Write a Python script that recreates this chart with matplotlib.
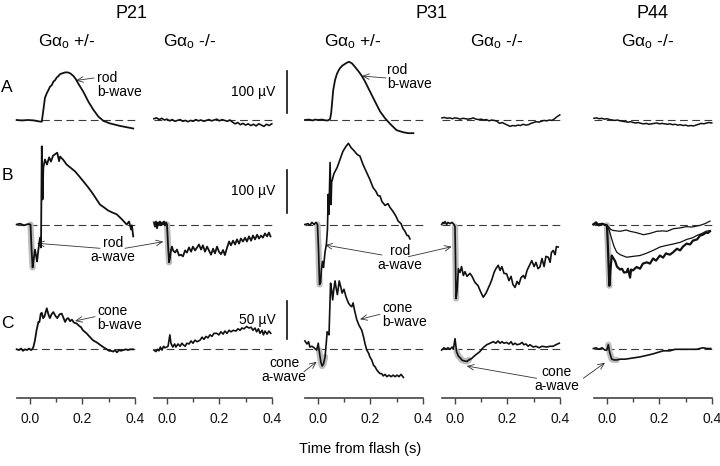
import matplotlib
matplotlib.use("Agg")
import matplotlib.pyplot as plt

plt.rcParams["font.family"] = ["Liberation Sans", "DejaVu Sans"]
plt.rcParams["mathtext.fontset"] = "custom"
plt.rcParams["mathtext.rm"] = "Liberation Sans"
plt.rcParams["mathtext.it"] = "Liberation Sans:italic"

# ---------------------------------------------------------------- data
# ERG traces, time in s from flash, voltage in µV
COLUMN_AGES = ["P21", "P31", "P44"]
COLUMN_GENOTYPES = ["+/-", "-/-", "+/-", "-/-", "-/-"]
ROW_LETTERS = ["A", "B", "C"]
SCALE_BAR_UV = [100, 100, 50]
TICKS_MAJOR = [0.0, 0.2, 0.4]
TICKS_MINOR = [0.1, 0.3]
TICK_LABELS = ["0.0", "0.2", "0.4"]

GRID_T = [round(-0.05 + 0.01 * i, 2) for i in range(46)]

# row A: rod b-wave (dim flash)
a_p21_het_t = [-0.051, -0.031, -0.008, 0.015, 0.031, 0.045, 0.050, 0.057, 0.064, 0.070,
               0.076, 0.083, 0.089, 0.096, 0.102, 0.108, 0.115, 0.124, 0.134, 0.144,
               0.153, 0.165, 0.175, 0.184, 0.203, 0.223, 0.242, 0.261, 0.280, 0.305,
               0.344, 0.394]
a_p21_het_v = [0, -1, 0, -1, -3, -4, 19, 52, 63, 70, 78, 82, 90, 94, 100, 103, 108, 110,
               112, 112, 110, 104, 96, 86, 67, 43, 24, 8, -2, -8, -14, -20]
a_p21_ko_v = [3, 5, 1, 4, 0, 2, -2, 1, -3, -1, 1, -3, -1, -4, -1, -3, 1, -2, 0, -3, -1, 1,
              -2, 0, 2, -2, 1, -1, -3, 0, -5, -9, -6, -11, -8, -12, -9, -13, -10, -14, -9,
              -12, -15, -10, -13, -9]
a_p31_het_t = [-0.050, -0.035, -0.020, -0.011, 0.000, 0.015, 0.030, 0.038, 0.046, 0.050,
               0.053, 0.058, 0.065, 0.072, 0.078, 0.084, 0.093, 0.103, 0.111, 0.119,
               0.130, 0.141, 0.154, 0.167, 0.180, 0.192, 0.205, 0.218, 0.237, 0.256,
               0.275, 0.300, 0.326, 0.345, 0.364]
a_p31_het_v = [0, 1, -1, 1, 0, 1, -1, -1, 2, 15, 35, 70, 94, 108, 116, 122, 128, 132, 135,
               137, 133, 125, 115, 104, 90, 75, 59, 43, 20, 4, -9, -24, -29, -31, -31]
a_p31_ko_v = [5, 6, 4, 5, 3, 5, 4, 2, 4, 3, 2, 3, 5, 2, 1, 2, 0, 1, -2, 0, -1, -3, -8, -6,
              -9, -12, -15, -13, -14, -12, -13, -10, -12, -11, -8, -6, -4, -5, -3, -1, -2,
              0, -1, 3, 8, 12]
a_p44_ko_v = [4, 5, 3, 4, 2, 3, 1, 0, -1, 0, -2, -3, -4, -5, -4, -6, -7, -6, -8, -9, -8,
              -10, -9, -8, -7, -9, -8, -9, -10, -9, -11, -10, -12, -11, -13, -12, -14, -13,
              -14, -12, -10, -8, -9, -7, -6, -7]

# row B: rod a-wave + b-wave (bright flash)
b_p21_het_t = [-0.051, -0.038, -0.023, -0.008, 0.002, 0.006, 0.010, 0.013, 0.019, 0.023,
               0.027, 0.032, 0.038, 0.042, 0.045, 0.048, 0.051, 0.057, 0.065, 0.073,
               0.080, 0.088, 0.095, 0.104, 0.111, 0.115, 0.127, 0.140, 0.156, 0.172,
               0.187, 0.203, 0.220, 0.237, 0.252, 0.267, 0.283, 0.298, 0.315, 0.331,
               0.351, 0.369, 0.378, 0.386, 0.389, 0.394]
b_p21_het_v = [0, 2, -2, 1, 0, -59, -101, -87, -59, -73, -87, -59, -31, -54, 184, 59, 134,
               153, 141, 158, 148, 162, 165, 169, 149, 160, 152, 141, 133, 125, 114, 102,
               89, 75, 61, 47, 40, 33, 28, 24, 12, 0, 7, -12, -2, -28]
b_p21_ko_t = [-0.050, -0.046, -0.042, -0.038, -0.034, -0.031, -0.027, -0.023, -0.019,
              -0.015, -0.011, -0.008, -0.004, 0.000, 0.004, 0.008, 0.011, 0.015, 0.019,
              0.023, 0.031, 0.038, 0.046, 0.053, 0.061, 0.069, 0.076, 0.084, 0.092, 0.099,
              0.107, 0.115, 0.122, 0.130, 0.137, 0.145, 0.153, 0.160, 0.168, 0.176, 0.183,
              0.191, 0.198, 0.206, 0.214, 0.221, 0.229, 0.237, 0.244, 0.252, 0.260, 0.267,
              0.275, 0.282, 0.290, 0.298, 0.305, 0.313, 0.321, 0.328, 0.336, 0.344, 0.351,
              0.359, 0.366, 0.374, 0.382, 0.389, 0.395]
b_p21_ko_v = [5, -5, 7, -9, 5, 0, 7, -2, 5, 0, 7, -2, 5, 0, -49, -89, -80, -61, -52, -61,
              -66, -59, -73, -71, -75, -61, -66, -54, -64, -52, -61, -54, -47, -59, -49,
              -64, -52, -61, -71, -57, -68, -52, -64, -70, -60, -72, -55, -40, -49, -38,
              -47, -35, -45, -33, -40, -31, -40, -28, -38, -26, -35, -24, -33, -26, -31,
              -21, -28, -19, -28]
b_p31_het_t = [-0.050, -0.038, -0.031, -0.023, -0.015, -0.008, -0.002, 0.002, 0.006, 0.010,
               0.013, 0.017, 0.021, 0.027, 0.032, 0.036, 0.039, 0.042, 0.046, 0.050,
               0.052, 0.061, 0.073, 0.084, 0.095, 0.107, 0.116, 0.126, 0.137, 0.149,
               0.160, 0.172, 0.186, 0.198, 0.210, 0.221, 0.229, 0.237, 0.244, 0.256,
               0.267, 0.275, 0.286, 0.298, 0.306, 0.317, 0.324, 0.332, 0.340, 0.345, 0.351]
b_p31_het_v = [0, 2, -2, 5, 0, 5, 0, -59, -141, -136, -106, -87, -101, -64, -47, -12, 71,
               24, 146, 47, 99, 120, 134, 153, 172, 184, 191, 181, 174, 165, 161, 141, 122,
               106, 87, 78, 68, 67, 54, 45, 49, 40, 31, 19, 8, 2, -9, -16, -26, -26, -34]
b_p31_ko_t = [-0.051, -0.046, -0.042, -0.038, -0.032, -0.027, -0.019, -0.011, -0.004, 0.000,
              0.004, 0.008, 0.013, 0.019, 0.025, 0.032, 0.038, 0.046, 0.057, 0.065, 0.076,
              0.088, 0.099, 0.108, 0.118, 0.126, 0.134, 0.141, 0.149, 0.156, 0.165, 0.172,
              0.179, 0.187, 0.197, 0.206, 0.214, 0.221, 0.229, 0.237, 0.244, 0.252, 0.261,
              0.267, 0.275, 0.282, 0.293, 0.302, 0.309, 0.317, 0.324, 0.332, 0.340, 0.347,
              0.356, 0.363, 0.368, 0.375, 0.382, 0.387, 0.394]
b_p31_ko_v = [0, 5, 2, 7, 0, 5, 2, 5, 0, -5, -174, -155, -104, -113, -99, -120, -111, -122,
              -115, -122, -136, -144, -160, -171, -162, -151, -140, -129, -113, -104, -96,
              -108, -99, -115, -116, -132, -122, -141, -148, -134, -141, -125, -120, -127,
              -108, -99, -85, -99, -89, -104, -100, -80, -99, -75, -77, -89, -66, -61, -71,
              -52, -53]
b_p44_dim_t = [-0.052, -0.042, -0.034, -0.027, -0.015, -0.004, 0.004, 0.015, 0.024, 0.050,
               0.073, 0.088, 0.111, 0.139, 0.164, 0.190, 0.214, 0.229, 0.253, 0.279,
               0.304, 0.324, 0.355, 0.374, 0.393]
b_p44_dim_v = [0, 5, -2, 2, 0, 0, -5, -12, -14, -16, -13, -16, -19, -24, -21, -16, -15, -16,
               -10, -8, -5, -6, -2, 2, 8]
b_p44_mid_t = [-0.052, -0.038, -0.023, -0.008, 0.004, 0.011, 0.018, 0.027, 0.037, 0.050,
               0.075, 0.099, 0.126, 0.149, 0.176, 0.202, 0.229, 0.252, 0.279, 0.305,
               0.328, 0.342, 0.363, 0.378, 0.393]
b_p44_mid_v = [2, 0, 2, 0, -5, -19, -34, -52, -65, -71, -77, -75, -73, -68, -61, -53, -49,
               -46, -42, -35, -31, -26, -21, -16, -14]
b_p44_bright_t = [-0.052, -0.042, -0.031, -0.019, -0.008, 0.000, 0.004, 0.009, 0.013, 0.018,
                  0.023, 0.031, 0.038, 0.050, 0.057, 0.065, 0.075, 0.080, 0.088, 0.092,
                  0.099, 0.113, 0.126, 0.137, 0.152, 0.164, 0.176, 0.187, 0.202, 0.214,
                  0.225, 0.240, 0.253, 0.267, 0.279, 0.290, 0.304, 0.317, 0.328, 0.344,
                  0.355, 0.366, 0.378, 0.385, 0.393]
b_p44_bright_v = [0, 5, -2, 2, -1, -2, -61, -144, -108, -73, -78, -86, -99, -106, -104, -113,
                  -112, -104, -125, -106, -108, -100, -104, -92, -89, -92, -80, -85, -73,
                  -78, -68, -71, -65, -57, -61, -52, -45, -47, -38, -35, -26, -24, -19, -20,
                  -16]

# row C: cone responses (light adapted)
c_p21_het_t = [-0.051, -0.042, -0.034, -0.027, -0.019, -0.011, -0.004, 0.004, 0.008, 0.013,
               0.019, 0.025, 0.032, 0.036, 0.041, 0.045, 0.050, 0.055, 0.064, 0.071,
               0.076, 0.082, 0.089, 0.097, 0.104, 0.113, 0.121, 0.128, 0.134, 0.140,
               0.146, 0.153, 0.160, 0.168, 0.178, 0.187, 0.195, 0.202, 0.216, 0.229,
               0.240, 0.255, 0.267, 0.279, 0.293, 0.302, 0.309, 0.318, 0.324, 0.332,
               0.340, 0.347, 0.356, 0.366, 0.374, 0.382, 0.394]
c_p21_het_v = [0, -1, 1, -2, 0, -1, 1, -1, 0, 3, 12, 25, 36, 36, 47, 48, 41, 43, 54, 45,
               41, 46, 49, 44, 41, 46, 47, 41, 36, 40, 41, 37, 39, 35, 34, 31, 29, 25, 21,
               16, 12, 9, 6, 3, 0, -2, -2, -3, -1, -4, -1, -2, -1, 0, -1, 0, 0]
c_p21_ko_t = [-0.050, -0.042, -0.036, -0.031, -0.025, -0.019, -0.013, -0.008, -0.001, 0.004,
              0.011, 0.015, 0.022, 0.029, 0.034, 0.042, 0.050, 0.057, 0.062, 0.069, 0.076,
              0.084, 0.092, 0.099, 0.107, 0.115, 0.126, 0.134, 0.141, 0.149, 0.156, 0.164,
              0.172, 0.179, 0.190, 0.198, 0.206, 0.214, 0.221, 0.229, 0.237, 0.244, 0.253,
              0.263, 0.271, 0.279, 0.286, 0.294, 0.304, 0.313, 0.321, 0.328, 0.336, 0.342,
              0.349, 0.355, 0.363, 0.368, 0.374, 0.382, 0.389, 0.396]
c_p21_ko_v = [-1, -3, 0, -2, 3, -1, 4, 2, 3, 4, 19, 8, 3, 7, 3, 7, 4, 8, 6, 4, 8, 7, 11, 8,
              12, 10, 12, 16, 13, 17, 15, 19, 17, 21, 21, 19, 23, 20, 24, 21, 25, 23, 25,
              24, 27, 25, 28, 27, 30, 28, 29, 25, 28, 23, 27, 21, 25, 19, 24, 20, 24, 21]
c_p31_het_t = [-0.050, -0.042, -0.036, -0.031, -0.023, -0.015, -0.005, 0.001, 0.004, 0.008,
               0.011, 0.016, 0.021, 0.027, 0.031, 0.035, 0.039, 0.042, 0.048, 0.052,
               0.056, 0.060, 0.065, 0.069, 0.074, 0.078, 0.081, 0.087, 0.092, 0.099,
               0.107, 0.116, 0.122, 0.129, 0.134, 0.139, 0.148, 0.156, 0.167, 0.174,
               0.179, 0.186, 0.193, 0.198, 0.205, 0.212, 0.218, 0.224, 0.231, 0.237,
               0.243, 0.249, 0.256, 0.263, 0.271, 0.279, 0.287, 0.294, 0.302, 0.309,
               0.317, 0.326]
c_p31_het_v = [11, 7, 10, 3, 4, 2, -1, 8, -1, -10, -17, -22, -19, -10, 6, 23, 21, 19, 87,
               78, 65, 78, 90, 81, 72, 82, 90, 82, 74, 79, 69, 61, 58, 56, 61, 52, 39, 32,
               25, 16, 8, -1, -5, -10, -14, -21, -23, -27, -30, -32, -32, -35, -33, -36,
               -34, -36, -34, -36, -34, -36, -33, -37]
c_p31_ko_t = [-0.051, -0.042, -0.034, -0.027, -0.019, -0.011, -0.006, 0.000, 0.006, 0.013,
              0.019, 0.026, 0.032, 0.045, 0.053, 0.064, 0.073, 0.084, 0.095, 0.107, 0.121,
              0.134, 0.146, 0.156, 0.164, 0.172, 0.179, 0.187, 0.197, 0.206, 0.214, 0.221,
              0.229, 0.237, 0.248, 0.256, 0.263, 0.271, 0.279, 0.286, 0.299, 0.309, 0.321,
              0.332, 0.350, 0.363, 0.374, 0.385, 0.398]
c_p31_ko_v = [-1, 2, 0, 2, 0, 3, 0, 14, -3, -9, -11, -14, -15, -16, -14, -12, -9, -6, -3,
              2, 6, 8, 10, 8, 11, 8, 10, 8, 9, 7, 10, 6, 8, 6, 7, 9, 6, 7, 4, 6, 3, 4, 2, 4,
              3, 4, 4, 6, 8]
c_p44_ko_t = [-0.052, -0.042, -0.031, -0.019, -0.008, -0.001, 0.005, 0.010, 0.018, 0.027,
              0.037, 0.050, 0.069, 0.088, 0.107, 0.126, 0.152, 0.176, 0.195, 0.215, 0.240,
              0.260, 0.279, 0.309, 0.342, 0.366, 0.382, 0.396]
c_p44_ko_v = [1, 2, 0, 2, -1, -1, 6, -4, -13, -14, -14, -13, -13, -12, -11, -10, -8, -6,
              -4, -2, -2, 0, 0, 0, 0, 2, 1, 1]

# (row, column) -> list of (t, v, linewidth); highlight = (trace index, t0, t1)
CELLS = {
    (0, 0): [(a_p21_het_t, a_p21_het_v, 1.3)],
    (0, 1): [(GRID_T, a_p21_ko_v, 1.2)],
    (0, 2): [(a_p31_het_t, a_p31_het_v, 1.3)],
    (0, 3): [(GRID_T, a_p31_ko_v, 1.1)],
    (0, 4): [(GRID_T, a_p44_ko_v, 1.1)],
    (1, 0): [(b_p21_het_t, b_p21_het_v, 1.3)],
    (1, 1): [(b_p21_ko_t, b_p21_ko_v, 1.3)],
    (1, 2): [(b_p31_het_t, b_p31_het_v, 1.2)],
    (1, 3): [(b_p31_ko_t, b_p31_ko_v, 1.2)],
    (1, 4): [(b_p44_dim_t, b_p44_dim_v, 0.9), (b_p44_mid_t, b_p44_mid_v, 0.9),
             (b_p44_bright_t, b_p44_bright_v, 1.6)],
    (2, 0): [(c_p21_het_t, c_p21_het_v, 1.3)],
    (2, 1): [(c_p21_ko_t, c_p21_ko_v, 1.2)],
    (2, 2): [(c_p31_het_t, c_p31_het_v, 1.2)],
    (2, 3): [(c_p31_ko_t, c_p31_ko_v, 1.2)],
    (2, 4): [(c_p44_ko_t, c_p44_ko_v, 1.2)],
}
HILITE = {
    (1, 0): (0, -0.001, 0.011), (1, 1): (0, -0.001, 0.009), (1, 2): (0, -0.003, 0.007),
    (1, 3): (0, -0.001, 0.005), (1, 4): (2, -0.001, 0.010),
    (2, 2): (0, 0.003, 0.030), (2, 3): (0, 0.004, 0.055), (2, 4): (0, 0.004, 0.040),
}

# ---------------------------------------------------------------- layout
W, H = 720, 466
PX_PER_S = 262.0
ZERO_X = [30, 167, 318, 455, 607]
ROW_BASE = [120, 224.5, 349.3]
ROW_SCALE = [0.425, 0.425, 0.76]
T_LIM = (-0.06, 0.42)
AXIS_Y = 398
INK = "#111111"
ARROW = dict(arrowstyle="->,head_length=0.45,head_width=0.2", lw=0.6,
             color="#333333", shrinkA=0, shrinkB=0)

fig = plt.figure(figsize=(W / 100, H / 100), dpi=100)
ov = fig.add_axes([0, 0, 1, 1])
ov.set_xlim(0, W)
ov.set_ylim(H, 0)
ov.axis("off")


def col_box(c):
    left = (ZERO_X[c] + T_LIM[0] * PX_PER_S) / W
    width = (T_LIM[1] - T_LIM[0]) * PX_PER_S / W
    return left, width


axes = {}
for (r, c), traces in CELLS.items():
    left, width = col_box(c)
    ax = fig.add_axes([left, 0, width, 1])
    ax.set_xlim(T_LIM)
    ax.set_ylim(-(H - ROW_BASE[r]) / ROW_SCALE[r], ROW_BASE[r] / ROW_SCALE[r])
    ax.axis("off")
    axes[(r, c)] = ax
    ax.hlines(0, -0.05, 0.4, colors="#3a3a3a", lw=0.8, linestyles=(0, (7, 4)), zorder=1)
    if (r, c) in HILITE:
        k, t0, t1 = HILITE[(r, c)]
        t, v, _ = traces[k]
        sel = [(ti, vi) for ti, vi in zip(t, v) if t0 <= ti <= t1]
        ax.plot([p[0] for p in sel], [p[1] for p in sel], color="#bdbdbd", lw=4.5,
                solid_capstyle="round", zorder=2, clip_on=False)
    for t, v, lw in traces:
        ax.plot(t, v, color=INK, lw=lw, zorder=3, clip_on=False)

# scale bars, drawn in the P31 +/- column units
for r, uv in enumerate(SCALE_BAR_UV):
    ax = axes[(r, 2)]
    bottom = [16, 28, 14][r]
    ax.plot([-0.117, -0.117], [bottom, bottom + uv], color=INK, lw=1.2, clip_on=False)
    ax.text(-0.162, bottom + uv / 2, f"{uv} µV", ha="right", va="center", fontsize=10)

# bottom time axes
for c in range(5):
    left, width = col_box(c)
    axb = fig.add_axes([left, 1 - AXIS_Y / H, width, 0.02])
    axb.set_xlim(T_LIM)
    axb.patch.set_visible(False)
    for s in ("top", "left", "right"):
        axb.spines[s].set_visible(False)
    axb.spines["bottom"].set_bounds(-0.05, 0.4)
    axb.spines["bottom"].set_color("#444444")
    axb.spines["bottom"].set_linewidth(1.2)
    axb.set_yticks([])
    axb.set_xticks(TICKS_MAJOR)
    axb.set_xticklabels(TICK_LABELS)
    axb.set_xticks(TICKS_MINOR, minor=True)
    axb.tick_params(axis="x", which="major", length=4.5, width=1.0, color="#444444",
                    pad=5.5, labelsize=10, labelcolor=INK)
    axb.tick_params(axis="x", which="minor", length=3, width=1.0, color="#444444")

fig.text(360 / W, 1 - 449 / H, "Time from flash (s)", ha="center", va="center", fontsize=10.5)

# headers
for name, x in zip(COLUMN_AGES, [131.7, 431.7, 653]):
    ov.text(x, 13, name, ha="center", va="center", fontsize=13)
for gt, x in zip(COLUMN_GENOTYPES, [66.7, 190, 353, 496.7, 648]):
    ov.text(x, 42, "Gα$_{\\rm o}$ " + gt, ha="center", va="center", fontsize=12.5)
for letter, y in zip(ROW_LETTERS, [88, 175, 323]):
    ov.text(7, y, letter, ha="center", va="center", fontsize=12.5)

# annotations
NOTE = dict(fontsize=10, linespacing=1.05, va="center")
ov.text(97, 85, "rod\nb-wave", ha="left", **NOTE)
ov.annotate("", xy=(76, 80.5), xytext=(94, 78), arrowprops=ARROW)
ov.text(387, 77, "rod\nb-wave", ha="left", **NOTE)
ov.annotate("", xy=(362, 76), xytext=(386, 78), arrowprops=ARROW)

ov.text(113, 250, "rod\na-wave", ha="center", multialignment="center", **NOTE)
ov.annotate("", xy=(37, 243.3), xytext=(100, 248.3), arrowprops=ARROW)
ov.annotate("", xy=(163.3, 241.7), xytext=(125, 248.3), arrowprops=ARROW)
ov.text(400, 258, "rod\na-wave", ha="center", multialignment="center", **NOTE)
ov.annotate("", xy=(325, 245), xytext=(382, 255), arrowprops=ARROW)
ov.annotate("", xy=(451.7, 246.7), xytext=(408.3, 256.7), arrowprops=ARROW)

ov.text(97, 318, "cone\nb-wave", ha="left", **NOTE)
ov.annotate("", xy=(75, 321), xytext=(95, 316.7), arrowprops=ARROW)
ov.text(382, 315, "cone\nb-wave", ha="left", **NOTE)
ov.annotate("", xy=(360, 319.3), xytext=(380, 314.3), arrowprops=ARROW)

ov.text(284, 370, "cone\na-wave", ha="center", multialignment="center", **NOTE)
ov.annotate("", xy=(316.7, 361.7), xytext=(304, 371.7), arrowprops=ARROW)
ov.text(557, 379, "cone\na-wave", ha="center", multialignment="center", **NOTE)
ov.annotate("", xy=(466.7, 366), xytext=(536.7, 378.3), arrowprops=ARROW)
ov.annotate("", xy=(605, 362.7), xytext=(583.3, 378.3), arrowprops=ARROW)

fig.savefig("out.png", dpi=100, facecolor="white")
